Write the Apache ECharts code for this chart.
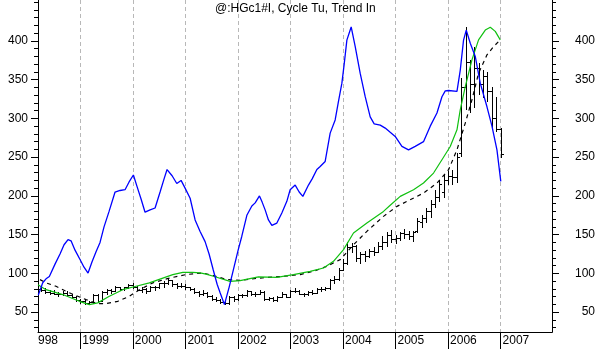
<!DOCTYPE html>
<html><head><meta charset="utf-8">
<script src="https://cdn.jsdelivr.net/npm/echarts@6/dist/echarts.min.js"></script>
<style>html,body{margin:0;padding:0;background:#fff}#c{width:600px;height:349px}</style>
</head><body><div id="c"></div>
<script>
const chartTitle = '@:HGc1#I, Cycle Tu, Trend In';
const xMin = 1998.194, xMax = 2007.979;
const yMin = 24.4, yMax = 452.8;
const yearTicks = [1999, 2000, 2001, 2002, 2003, 2004, 2005, 2006, 2007];
const clippedYearLabel = '998';
const majorTickValues = [50, 100, 150, 200, 250, 300, 350, 400];
const minorTickValues = [30, 40, 50, 60, 70, 80, 90, 100, 110, 120, 130, 140, 150, 160, 170, 180, 190, 200,
  210, 220, 230, 240, 250, 260, 270, 280, 290, 300, 310, 320, 330, 340, 350, 360, 370, 380, 390, 400,
  410, 420, 430, 440, 450];

// monthly bars: [month, open, high, low, close]
const ohlc = [
  ['1998-04', 80, 84, 77, 79], ['1998-05', 79, 81, 75, 76], ['1998-06', 76, 78, 73, 75],
  ['1998-07', 75, 78, 73, 74], ['1998-08', 74, 76, 71, 73], ['1998-09', 73, 77, 72, 75],
  ['1998-10', 75, 77, 71, 72], ['1998-11', 72, 74, 69, 70], ['1998-12', 70, 71, 65, 66],
  ['1999-01', 66, 67, 62, 64], ['1999-02', 64, 66, 61, 62], ['1999-03', 62, 64, 60, 63],
  ['1999-04', 63, 73, 62, 72], ['1999-05', 72, 73, 64, 65], ['1999-06', 65, 77, 64, 76],
  ['1999-07', 76, 80, 74, 78], ['1999-08', 78, 80, 75, 77], ['1999-09', 77, 84, 77, 82],
  ['1999-10', 82, 83, 78, 80], ['1999-11', 80, 83, 78, 82], ['1999-12', 82, 86, 81, 85],
  ['2000-01', 85, 88, 81, 83], ['2000-02', 83, 84, 78, 79], ['2000-03', 79, 82, 76, 80],
  ['2000-04', 80, 81, 75, 77], ['2000-05', 77, 84, 77, 82], ['2000-06', 82, 84, 78, 82],
  ['2000-07', 82, 88, 81, 87], ['2000-08', 87, 90, 83, 88], ['2000-09', 88, 93, 86, 91],
  ['2000-10', 91, 91, 84, 86], ['2000-11', 86, 87, 81, 84], ['2000-12', 84, 87, 82, 84],
  ['2001-01', 84, 86, 80, 82], ['2001-02', 82, 83, 78, 80], ['2001-03', 80, 81, 75, 76],
  ['2001-04', 76, 77, 71, 73], ['2001-05', 73, 79, 72, 75], ['2001-06', 75, 76, 69, 71],
  ['2001-07', 71, 72, 66, 67], ['2001-08', 67, 69, 64, 66], ['2001-09', 66, 67, 62, 63],
  ['2001-10', 63, 65, 60, 62], ['2001-11', 62, 71, 61, 69], ['2001-12', 69, 71, 65, 67],
  ['2002-01', 67, 74, 66, 72], ['2002-02', 72, 74, 70, 72], ['2002-03', 72, 79, 71, 77],
  ['2002-04', 77, 77, 72, 74], ['2002-05', 74, 76, 71, 74], ['2002-06', 74, 79, 73, 76],
  ['2002-07', 76, 77, 66, 67], ['2002-08', 67, 70, 66, 68], ['2002-09', 68, 70, 65, 66],
  ['2002-10', 66, 71, 65, 70], ['2002-11', 70, 76, 70, 73], ['2002-12', 73, 74, 69, 70],
  ['2003-01', 70, 79, 70, 77], ['2003-02', 77, 81, 76, 77], ['2003-03', 77, 79, 73, 74],
  ['2003-04', 74, 75, 71, 73], ['2003-05', 73, 77, 72, 76], ['2003-06', 76, 78, 73, 75],
  ['2003-07', 75, 81, 75, 80], ['2003-08', 80, 82, 77, 80], ['2003-09', 80, 83, 78, 81],
  ['2003-10', 81, 93, 80, 92], ['2003-11', 92, 97, 88, 93], ['2003-12', 93, 107, 92, 104],
  ['2004-01', 104, 118, 104, 113], ['2004-02', 113, 140, 112, 134], ['2004-03', 134, 139, 127, 136],
  ['2004-04', 136, 137, 116, 120], ['2004-05', 120, 128, 114, 125], ['2004-06', 125, 129, 116, 122],
  ['2004-07', 122, 131, 121, 129], ['2004-08', 129, 134, 124, 128], ['2004-09', 128, 140, 127, 136],
  ['2004-10', 136, 148, 131, 140], ['2004-11', 140, 154, 135, 150], ['2004-12', 150, 156, 140, 145],
  ['2005-01', 145, 150, 139, 146], ['2005-02', 146, 153, 143, 152], ['2005-03', 152, 157, 146, 151],
  ['2005-04', 151, 155, 145, 148], ['2005-05', 148, 155, 142, 153], ['2005-06', 155, 172, 154, 168],
  ['2005-07', 166, 176, 160, 172], ['2005-08', 172, 185, 166, 180], ['2005-09', 180, 195, 173, 190],
  ['2005-10', 190, 208, 186, 198], ['2005-11', 198, 221, 193, 215], ['2005-12', 205, 228, 199, 220],
  ['2006-01', 220, 232, 216, 226], ['2006-02', 226, 234, 216, 224], ['2006-03', 224, 256, 218, 250],
  ['2006-04', 255, 352, 252, 340], ['2006-05', 340, 418, 312, 373], ['2006-06', 373, 375, 308, 345],
  ['2006-07', 345, 392, 315, 365], ['2006-08', 365, 372, 332, 345], ['2006-09', 345, 363, 328, 355],
  ['2006-10', 355, 360, 322, 336], ['2006-11', 336, 341, 286, 300], ['2006-12', 300, 328, 284, 286],
  ['2007-01', 286, 287, 250, 254]
];

// blue "Cycle" line [fractional year, value]
const cycleLine = [
  [1998.200, 72], [1998.284, 88], [1998.347, 93], [1998.410, 96], [1998.518, 112], [1998.613, 125],
  [1998.690, 137], [1998.766, 143.6], [1998.823, 142], [1998.899, 130], [1998.994, 118], [1999.070, 108],
  [1999.147, 100.5], [1999.223, 115], [1999.299, 128], [1999.375, 140], [1999.451, 160], [1999.547, 180],
  [1999.661, 205], [1999.756, 207], [1999.851, 208], [1999.928, 218], [2000.010, 227], [2000.080, 212],
  [2000.156, 196], [2000.232, 179], [2000.328, 182], [2000.423, 184.4], [2000.518, 205], [2000.594, 222],
  [2000.651, 234], [2000.747, 226], [2000.836, 216], [2000.918, 220], [2000.994, 210], [2001.090, 197],
  [2001.185, 169], [2001.280, 154], [2001.375, 141], [2001.451, 125], [2001.528, 105], [2001.604, 86],
  [2001.661, 75], [2001.743, 59.8], [2001.832, 82], [2001.914, 105], [2002.004, 130], [2002.074, 148],
  [2002.170, 175], [2002.265, 187], [2002.328, 191], [2002.410, 200], [2002.461, 192], [2002.518, 182],
  [2002.581, 169], [2002.646, 162], [2002.741, 165], [2002.836, 178], [2002.931, 193], [2002.994, 208],
  [2003.090, 214], [2003.166, 205], [2003.236, 199.4], [2003.343, 214], [2003.413, 222], [2003.503, 234],
  [2003.566, 238], [2003.661, 244.5], [2003.756, 281], [2003.851, 298], [2003.909, 320], [2003.979, 345.5],
  [2004.023, 370], [2004.074, 401], [2004.156, 418], [2004.232, 393], [2004.328, 358], [2004.423, 328],
  [2004.518, 302], [2004.594, 293], [2004.709, 291.3], [2004.804, 287.5], [2004.899, 282], [2004.994, 276.7],
  [2005.122, 264], [2005.248, 259.5], [2005.375, 264], [2005.533, 270], [2005.661, 290], [2005.789, 307],
  [2005.884, 328], [2005.947, 335.6], [2006.010, 336], [2006.170, 335], [2006.232, 362], [2006.295, 401],
  [2006.347, 414], [2006.423, 397], [2006.518, 380], [2006.613, 345.5], [2006.741, 315], [2006.836, 290],
  [2006.931, 259.5], [2007.004, 218.7]
];

// green trend line
const trendGreen = [
  [1998.194, 85.5], [1998.347, 79], [1998.665, 72.7], [1998.981, 64], [1999.171, 59.8], [1999.331, 62],
  [1999.552, 70.5], [1999.808, 79], [2000.061, 83.4], [2000.314, 87.8], [2000.570, 94], [2000.760, 98.5],
  [2000.950, 101.4], [2001.141, 101.4], [2001.280, 100.6], [2001.394, 99], [2001.533, 96.3], [2001.851, 89.8],
  [2002.042, 90.7], [2002.390, 95.5], [2002.741, 95], [2003.057, 98.5], [2003.375, 102.7], [2003.629, 107],
  [2003.819, 115.6], [2004.010, 130.7], [2004.200, 152.2], [2004.455, 165], [2004.771, 180], [2004.899, 188],
  [2005.090, 199.4], [2005.343, 208], [2005.533, 216.6], [2005.724, 229.5], [2005.884, 246.6], [2006.042, 263.8],
  [2006.170, 285.3], [2006.232, 311], [2006.328, 341], [2006.455, 375.5], [2006.581, 401.3], [2006.709, 414],
  [2006.804, 417.7], [2006.899, 412.3], [2006.994, 401.3]
];

// dashed trend line
const trendDashed = [
  [1998.232, 92], [1998.347, 87.8], [1998.537, 83.4], [1998.790, 75], [1999.109, 66.2], [1999.331, 61],
  [1999.490, 61], [1999.712, 64], [1999.933, 70.5], [2000.124, 79], [2000.379, 87.8], [2000.695, 94],
  [2001.013, 98.5], [2001.331, 100.6], [2001.533, 97.2], [2001.789, 92], [2002.042, 91.1], [2002.423, 94],
  [2002.867, 96.3], [2003.185, 98.5], [2003.438, 102.7], [2003.693, 109.2], [2003.947, 117.8], [2004.200, 137],
  [2004.455, 154.3], [2004.771, 173.6], [2005.027, 186.5], [2005.217, 192.9], [2005.533, 203.7], [2005.789, 216.6],
  [2006.010, 233.8], [2006.170, 259.5], [2006.328, 294], [2006.455, 324], [2006.581, 358.4], [2006.741, 382],
  [2006.867, 392.7], [2006.994, 401.3]
];

const FONT = "'Liberation Sans', Arial, sans-serif";
const barData = ohlc.map(r => {
  const [y, m] = r[0].split('-').map(Number);
  return [y + (m - 1) / 12, r[1], r[2], r[3], r[4]];
});

function renderOHLC(params, api) {
  const x = api.value(0);
  const pO = api.coord([x, api.value(1)]);
  const pH = api.coord([x, api.value(2)]);
  const pL = api.coord([x, api.value(3)]);
  const pC = api.coord([x, api.value(4)]);
  const cx = Math.round(pO[0]) + 0.5;
  const w = 2;
  const st = { stroke: '#000', lineWidth: 1 };
  const ry = v => Math.round(v) + 0.5;
  return { type: 'group', children: [
    { type: 'line', shape: { x1: cx, y1: Math.round(pH[1]), x2: cx, y2: Math.round(pL[1]) + 1 }, style: st },
    { type: 'line', shape: { x1: cx - 0.5 - w, y1: ry(pO[1]), x2: cx, y2: ry(pO[1]) }, style: st },
    { type: 'line', shape: { x1: cx, y1: ry(pC[1]), x2: cx + 0.5 + w, y2: ry(pC[1]) }, style: st }
  ]};
}

function yAx(pos, major) {
  return {
    type: 'value', position: pos, min: yMin, max: yMax,
    axisLine: { show: true, onZero: false, lineStyle: { color: '#000', width: 1 } },
    axisTick: { show: true, inside: false, length: major ? 7 : 4, customValues: major ? majorTickValues : minorTickValues,
      lineStyle: { color: '#000', width: 1 } },
    axisLabel: major ? { show: true, customValues: majorTickValues, color: '#000', fontFamily: FONT, fontSize: 12,
      margin: pos === 'left' ? 10 : 43, align: 'right' } : { show: false },
    splitLine: { show: false }
  };
}

const chart = echarts.init(document.getElementById('c'), null, { renderer: 'canvas' });
chart.setOption({
  animation: false,
  backgroundColor: '#fff',
  title: { text: chartTitle, left: 215, top: 3, padding: 0,
    textStyle: { fontFamily: FONT, fontSize: 12, fontWeight: 'normal', color: '#000' } },
  grid: { left: 38, right: 48, top: 0, bottom: 17, containLabel: false },
  xAxis: {
    type: 'value', min: xMin, max: xMax,
    axisLine: { show: true, onZero: false, lineStyle: { color: '#000', width: 1 } },
    axisTick: { show: true, length: 17, customValues: yearTicks, lineStyle: { color: '#000', width: 1 } },
    axisLabel: { show: true, customValues: yearTicks, align: 'left', verticalAlign: 'middle', margin: 9,
      padding: [0, 0, 0, 2], color: '#000', fontFamily: FONT, fontSize: 12, formatter: v => String(Math.round(v)) },
    splitLine: { show: true, lineStyle: { color: '#b8b8b8', type: [4, 3], width: 1 } }
  },
  yAxis: [yAx('left', false), yAx('left', true), yAx('right', false), yAx('right', true)],
  graphic: [
    { type: 'text', left: 38, top: 335, style: { text: clippedYearLabel, fontFamily: FONT, fontSize: 12, fill: '#000' } }
  ],
  series: [
    { type: 'custom', renderItem: renderOHLC, data: barData, encode: { x: 0, y: [1, 2, 3, 4] }, clip: true, z: 2 },
    { type: 'line', data: trendDashed, showSymbol: false, symbol: 'none', clip: true, z: 3,
      lineStyle: { color: '#000', width: 1.2, type: [4, 4] } },
    { type: 'line', data: trendGreen, showSymbol: false, symbol: 'none', clip: true, z: 4,
      lineStyle: { color: '#10c010', width: 1.2 } },
    { type: 'line', data: cycleLine, showSymbol: false, symbol: 'none', clip: true, z: 5,
      lineStyle: { color: '#0000ff', width: 1.3 } }
  ]
});
</script></body></html>
